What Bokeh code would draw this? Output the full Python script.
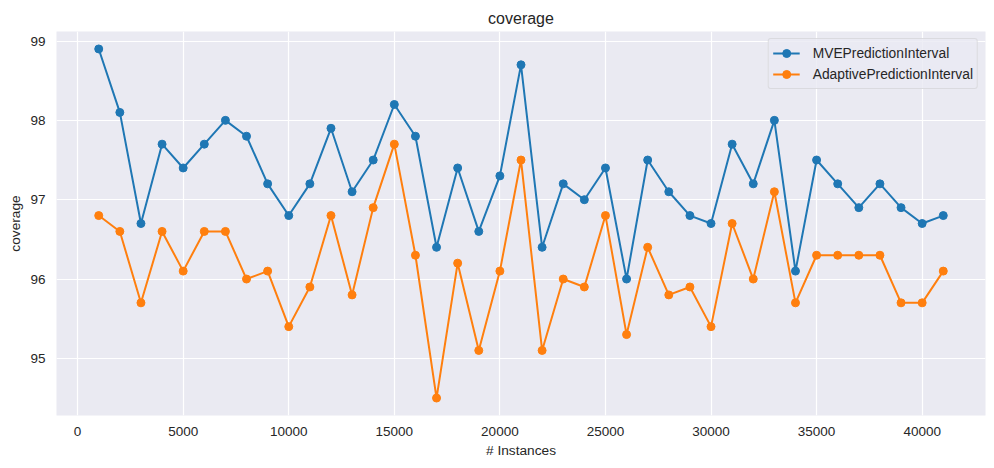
from bokeh.plotting import figure
from bokeh.models import FixedTicker, Legend, LegendItem
from bokeh.embed import file_html
from bokeh.resources import INLINE

instances = [1000, 2000, 3000, 4000, 5000, 6000, 7000, 8000, 9000, 10000,
             11000, 12000, 13000, 14000, 15000, 16000, 17000, 18000, 19000, 20000,
             21000, 22000, 23000, 24000, 25000, 26000, 27000, 28000, 29000, 30000,
             31000, 32000, 33000, 34000, 35000, 36000, 37000, 38000, 39000, 40000, 41000]
mve = [98.9, 98.1, 96.7, 97.7, 97.4, 97.7, 98.0, 97.8, 97.2, 96.8,
       97.2, 97.9, 97.1, 97.5, 98.2, 97.8, 96.4, 97.4, 96.6, 97.3,
       98.7, 96.4, 97.2, 97.0, 97.4, 96.0, 97.5, 97.1, 96.8, 96.7,
       97.7, 97.2, 98.0, 96.1, 97.5, 97.2, 96.9, 97.2, 96.9, 96.7, 96.8]
adaptive = [96.8, 96.6, 95.7, 96.6, 96.1, 96.6, 96.6, 96.0, 96.1, 95.4,
            95.9, 96.8, 95.8, 96.9, 97.7, 96.3, 94.5, 96.2, 95.1, 96.1,
            97.5, 95.1, 96.0, 95.9, 96.8, 95.3, 96.4, 95.8, 95.9, 95.4,
            96.7, 96.0, 97.1, 95.7, 96.3, 96.3, 96.3, 96.3, 95.7, 95.7, 96.1]
x_ticks = [0, 5000, 10000, 15000, 20000, 25000, 30000, 35000, 40000]
y_ticks = [95, 96, 97, 98, 99]
series_names = ["MVEPredictionInterval", "AdaptivePredictionInterval"]
colors = ["#1f77b4", "#ff7f0e"]

FONT = "Liberation Sans"
TXT = "#262626"

p = figure(frame_width=929, frame_height=384,
           min_border_left=56, min_border_right=9, min_border_top=31, min_border_bottom=53,
           x_range=(-1000, 43000), y_range=(94.28, 99.12),
           output_backend="svg", toolbar_location=None,
           background_fill_color="#EAEAF2", border_fill_color="white",
           title="coverage")
p.outline_line_color = None

p.title.align = "center"
p.title.text_font = FONT
p.title.text_font_size = "16px"
p.title.text_font_style = "normal"
p.title.text_color = TXT
p.title.standoff = 10

p.xaxis.ticker = FixedTicker(ticks=x_ticks)
p.yaxis.ticker = FixedTicker(ticks=y_ticks)
p.xaxis.axis_label = "# Instances"
p.yaxis.axis_label = "coverage"
for ax in (p.xaxis[0], p.yaxis[0]):
    ax.axis_line_color = None
    ax.major_tick_line_color = None
    ax.minor_tick_line_color = None
    ax.major_tick_out = 0
    ax.major_tick_in = 0
    ax.major_label_text_font = FONT
    ax.major_label_text_font_size = "13.5px"
    ax.major_label_text_color = TXT
    ax.axis_label_text_font = FONT
    ax.axis_label_text_font_size = "13.7px"
    ax.axis_label_text_font_style = "normal"
    ax.axis_label_text_color = TXT
    ax.major_label_standoff = 11
p.xaxis[0].axis_label_standoff = 4
p.yaxis[0].axis_label_standoff = 4

p.xgrid.grid_line_color = "white"
p.ygrid.grid_line_color = "white"
p.xgrid.grid_line_width = 1.2
p.ygrid.grid_line_width = 1.2

items = []
for name, ys, c in zip(series_names, [mve, adaptive], colors):
    l = p.line(instances, ys, line_color=c, line_width=2)
    s = p.scatter(instances, ys, size=8, fill_color=c, line_color=c, line_width=1)
    items.append(LegendItem(label=name, renderers=[l, s]))

legend = Legend(items=items, location="top_right")
legend.margin = 7
legend.padding = 4
legend.spacing = 1
legend.glyph_width = 27
legend.glyph_height = 20
legend.label_height = 20
legend.label_standoff = 13
legend.label_text_font = FONT
legend.label_text_font_size = "13.8px"
legend.label_text_color = TXT
legend.background_fill_color = "#EAEAF2"
legend.background_fill_alpha = 0.8
legend.border_line_color = "#CCCCCC"
legend.border_line_width = 1
legend.border_radius = 3
p.add_layout(legend, "center")

open("out.html", "w").write(file_html(p, INLINE))
